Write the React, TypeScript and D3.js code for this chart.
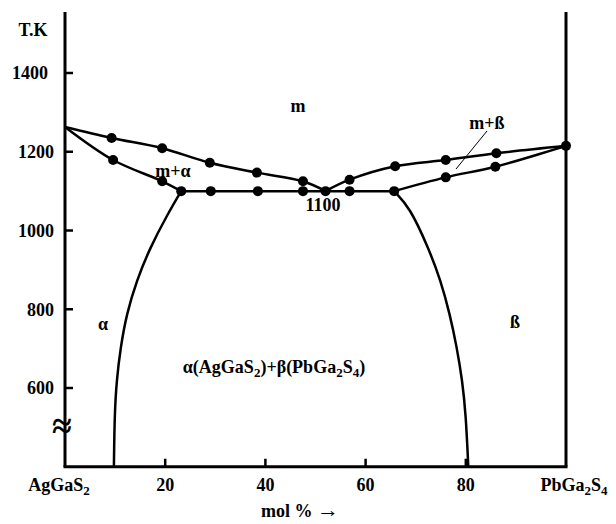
import * as d3 from 'd3';

// mol % PbGa2S4, temperature K
const liquidusLeft: [number, number][] = [
  [0, 1263], [9.3, 1235], [19.4, 1209], [28.9, 1172], [38.3, 1147], [47.5, 1125], [52, 1100],
];
const liquidusRight: [number, number][] = [
  [52, 1100], [56.8, 1129], [65.9, 1163], [76, 1179], [86.1, 1196], [100, 1215],
];
const solidusLeft: [number, number][] = [
  [0, 1263], [9.6, 1179], [19.4, 1125], [23.2, 1100],
];
const solidusRight: [number, number][] = [
  [65.7, 1100], [76, 1135], [85.9, 1162], [100, 1215],
];
const eutectic: [number, number][] = [
  [23.2, 1100], [29.1, 1100], [38.5, 1100], [47.5, 1100], [52, 1100], [56.8, 1100], [65.7, 1100],
];
const solvusLeft: [number, number][] = [
  [23.2, 1100], [20.5, 1042], [17, 957], [14.3, 873], [12.3, 788], [11.1, 704], [10.3, 619], [9.9, 534], [9.76, 400],
];
const solvusRight: [number, number][] = [
  [65.7, 1100], [68.8, 1059], [72.5, 957], [75, 873], [76.8, 788], [78.2, 704], [79.3, 619], [80, 534], [80.5, 400],
];
const dots: [number, number][] = [
  [9.3, 1235], [19.4, 1209], [28.9, 1172], [38.3, 1147], [47.5, 1125],
  [9.6, 1179], [19.4, 1125],
  [23.2, 1100], [29.1, 1100], [38.5, 1100], [47.5, 1100], [52, 1100], [56.8, 1100], [65.7, 1100],
  [56.8, 1129], [65.9, 1163], [76, 1179], [86.1, 1196], [100, 1215],
  [76, 1135], [85.9, 1162],
];
const yTicks = [600, 800, 1000, 1200, 1400];
const xTicks = [20, 40, 60, 80];

const font = '"Liberation Serif", "Times New Roman", serif';
const fs = 18;

const x = d3.scaleLinear().domain([0, 100]).range([65, 566]);
const y = d3.scaleLinear().domain([600, 1400]).range([388, 73]);
const yBottom = y(400);
const yTop = 12;

const line = d3
  .line<[number, number]>()
  .x((d) => x(d[0]))
  .y((d) => y(d[1]))
  .curve(d3.curveCatmullRom.alpha(0.5));

const solvus = d3
  .line<[number, number]>()
  .x((d) => x(d[0]))
  .y((d) => y(d[1]))
  .curve(d3.curveBasis);

const straight = d3
  .line<[number, number]>()
  .x((d) => x(d[0]))
  .y((d) => y(d[1]));

const Sub = ({ children }: { children: string }) => (
  <tspan fontSize="13" dy="4">{children}</tspan>
);

const App = () => {
  return (
    <svg
      width={616}
      height={524}
      style={{ position: 'absolute', left: 0, top: 0, background: '#fff' }}
      fontFamily={font}
      fontWeight="bold"
    >
      {/* frame */}
      <line x1={x(0)} x2={x(0)} y1={yTop} y2={yBottom} stroke="#000" strokeWidth={3} />
      <line x1={x(100)} x2={x(100)} y1={yTop} y2={yBottom} stroke="#000" strokeWidth={3} />
      <line x1={x(0) - 1.5} x2={x(100) + 1.5} y1={yBottom} y2={yBottom} stroke="#000" strokeWidth={3} />

      {yTicks.map((t) => (
        <g key={t}>
          <line x1={x(0)} x2={x(0) + 8} y1={y(t)} y2={y(t)} stroke="#000" strokeWidth={2.5} />
          <text x={t === 1400 ? 48 : 54} y={y(t)} dy="0.35em" textAnchor="end" fontSize={fs}>{t}</text>
        </g>
      ))}
      {xTicks.map((t) => (
        <g key={t}>
          <line x1={x(t)} x2={x(t)} y1={yBottom} y2={yBottom - 8} stroke="#000" strokeWidth={2.5} />
          <text x={x(t)} y={491} textAnchor="middle" fontSize={fs}>{t}</text>
        </g>
      ))}
      <text x={59} y={491} textAnchor="middle" fontSize={fs}>AgGaS<Sub>2</Sub></text>
      <text x={574} y={491} textAnchor="middle" fontSize={fs}>
        PbGa<Sub>2</Sub><tspan dy="-4">S</tspan><Sub>4</Sub>
      </text>
      <text x={300} y={517} textAnchor="middle" fontSize={fs}>
        mol % <tspan fontSize="22" fontWeight="normal">→</tspan>
      </text>
      <text x={33} y={36} textAnchor="middle" fontSize={fs}>T.K</text>
      <text x={62} y={425} dy="0.35em" textAnchor="middle" fontSize="36">≈</text>

      {/* curves */}
      {[liquidusLeft, liquidusRight, solidusLeft, solidusRight].map((d, i) => (
        <path key={i} d={line(d) ?? ''} fill="none" stroke="#000" strokeWidth={2.5} />
      ))}
      {[solvusLeft, solvusRight].map((d, i) => (
        <path key={i} d={solvus(d) ?? ''} fill="none" stroke="#000" strokeWidth={2.5} />
      ))}
      <path d={straight(eutectic) ?? ''} fill="none" stroke="#000" strokeWidth={2.5} />
      {dots.map((d, i) => (
        <circle key={i} cx={x(d[0])} cy={y(d[1])} r={5} fill="#000" />
      ))}

      {/* leader for m+ß */}
      <line x1={487} y1={131} x2={456} y2={169} stroke="#000" strokeWidth={1} />

      {/* region labels */}
      <text x={298} y={112} textAnchor="middle" fontSize={fs}>m</text>
      <text x={173} y={177} textAnchor="middle" fontSize={fs}>m+α</text>
      <text x={487} y={129} textAnchor="middle" fontSize={fs}>m+ß</text>
      <text x={323} y={211} textAnchor="middle" fontSize={fs}>1100</text>
      <text x={103} y={330} textAnchor="middle" fontSize={fs}>α</text>
      <text x={515} y={328} textAnchor="middle" fontSize={fs}>ß</text>
      <text x={274} y={373} textAnchor="middle" fontSize={fs}>
        α(AgGaS<Sub>2</Sub><tspan dy="-4">)+β(PbGa</tspan><Sub>2</Sub><tspan dy="-4">S</tspan><Sub>4</Sub><tspan dy="-4">)</tspan>
      </text>
    </svg>
  );
};

export default App;
